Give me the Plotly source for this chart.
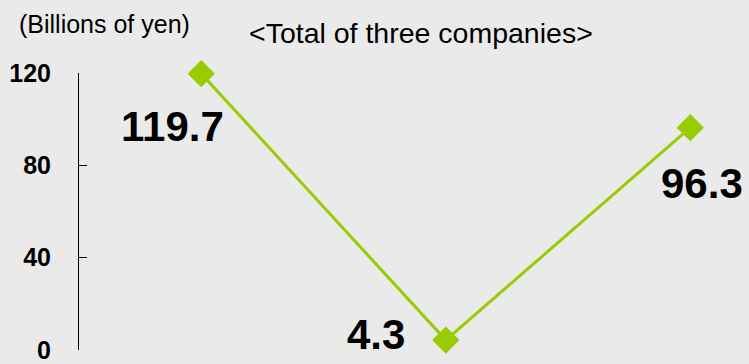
import plotly.graph_objects as go

# Operating income, total of three companies (billions of yen)
periods = ["Period 1", "Period 2", "Period 3"]
values = [119.7, 4.3, 96.3]
y_ticks = [0, 40, 80, 120]

# label offsets (px) relative to each point
label_dx = [-29, -70, 12]
label_dy = [-53, 6, -56]

GREEN = "#99cc00"
BG = "#eaeaea"
FONT = "Liberation Sans, Arial, sans-serif"

fig = go.Figure()
fig.add_trace(go.Scatter(
    x=list(range(len(periods))),
    y=values,
    mode="lines+markers",
    line=dict(color=GREEN, width=3),
    marker=dict(symbol="diamond", size=21, color=GREEN),
    cliponaxis=False,
    hoverinfo="skip",
    showlegend=False,
))

for i, v in enumerate(values):
    fig.add_annotation(
        x=i, y=v, text=f"<b>{v:.1f}</b>", showarrow=False,
        xshift=label_dx[i], yshift=label_dy[i],
        font=dict(family=FONT, size=42, color="#000000"),
    )

fig.add_annotation(
    xref="paper", yref="paper", x=0.511, y=1.145,
    text="&lt;Total of three companies&gt;", showarrow=False,
    xanchor="center", yanchor="middle",
    font=dict(family=FONT, size=28.5, color="#000000"),
)
fig.add_annotation(
    xref="paper", yref="paper", x=-0.093, y=1.178,
    text="(Billions of yen)", showarrow=False,
    xanchor="left", yanchor="middle",
    font=dict(family=FONT, size=25, color="#000000"),
)

fig.update_xaxes(
    range=[-0.5, 2.24], visible=False, showgrid=False, zeroline=False,
)
fig.update_yaxes(
    range=[0, 120], tickvals=y_ticks, ticktext=[f"<b>{t}</b>" for t in y_ticks],
    showgrid=False, zeroline=False, showline=True, linecolor="#000000", linewidth=1,
    ticks="inside", ticklen=8, tickcolor="#000000", tickwidth=1,
    ticklabelstandoff=22, ticklabeloverflow="allow",
    tickfont=dict(family=FONT, size=25, color="#000000"),
)

fig.update_layout(
    width=749, height=364,
    margin=dict(l=79, r=0, t=73, b=10),
    paper_bgcolor=BG, plot_bgcolor=BG,
)

fig.write_html("out.html")
